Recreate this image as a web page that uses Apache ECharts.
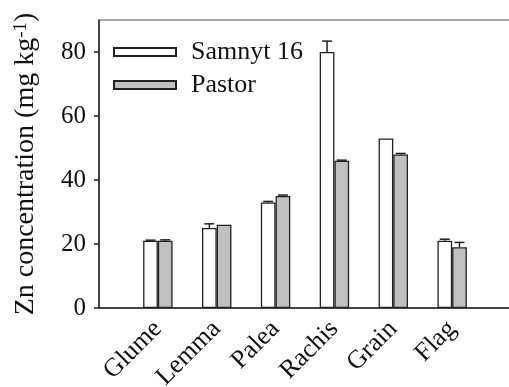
<!DOCTYPE html>
<html>
<head>
<meta charset="utf-8">
<script src="https://cdn.jsdelivr.net/npm/echarts@6/dist/echarts.min.js"></script>
<style>html,body{margin:0;padding:0;background:#fff}#c{width:509px;height:387px}</style>
</head>
<body>
<div id="c"></div>
<script>
var categories = ['Glume', 'Lemma', 'Palea', 'Rachis', 'Grain', 'Flag'];
var samnyt = [21, 25, 33, 80, 53, 21];
var samnytErr = [0.2, 1.3, 0.3, 3.4, 0, 0.5];
var pastor = [21, 26, 35, 46, 48, 19];
var pastorErr = [0.3, 0, 0.3, 0.2, 0.3, 1.5];
var yTicks = [0, 20, 40, 60, 80];

var FONT = '"Liberation Serif", "Times New Roman", serif';
var cats = [''].concat(categories).concat(['']);
function pad(a) { return ['-'].concat(a).concat(['-']); }

function errSeries(vals, errs, side) {
  var data = vals.map(function (v, i) { return [i + 1, v, errs[i]]; });
  return {
    type: 'custom',
    silent: true,
    z: 3,
    data: data,
    renderItem: function (params, api) {
      var x = api.value(0), v = api.value(1), e = api.value(2);
      if (!e) return null;
      var bw = api.size([1, 0])[0];
      var p0 = api.coord([x, v]);
      var p1 = api.coord([x, v + e]);
      var cx = p0[0] + side * bw * 0.125;
      var hw = 5;
      return {
        type: 'group',
        children: [
          { type: 'line', shape: { x1: cx, y1: p0[1], x2: cx, y2: p1[1] }, style: { stroke: '#222', lineWidth: 1.5 } },
          { type: 'line', shape: { x1: cx - hw, y1: p1[1], x2: cx + hw, y2: p1[1] }, style: { stroke: '#222', lineWidth: 1.5 } }
        ]
      };
    }
  };
}

var chart = echarts.init(document.getElementById('c'));
chart.setOption({
  animation: false,
  backgroundColor: '#fff',
  grid: { left: 99, top: 20, width: 412, height: 288, show: true, borderColor: '#555', borderWidth: 1, backgroundColor: 'transparent', outerBoundsMode: 'none', containLabel: false },
  legend: {
    orient: 'vertical', left: 113, top: 39, padding: 0, icon: 'rect', itemWidth: 62, itemHeight: 8, itemGap: 7,
    textStyle: { fontFamily: FONT, fontSize: 26, color: '#111', padding: [0, 0, 0, 10] },
    data: ['Samnyt 16', 'Pastor']
  },
  xAxis: {
    type: 'category', data: cats, boundaryGap: false,
    axisLine: { lineStyle: { color: '#222', width: 1.5 } },
    axisTick: { show: false },
    axisLabel: { interval: 0, rotate: 45, margin: 17, fontFamily: FONT, fontSize: 26, color: '#111' },
    splitLine: { show: false }
  },
  yAxis: {
    type: 'value', min: 0, max: 90,
    name: '{a|Zn concentration (mg kg}{s|-1}{a|)}',
    nameLocation: 'middle', nameGap: 59, nameRotate: 90,
    nameTextStyle: {
      rich: {
        a: { fontFamily: FONT, fontSize: 28, color: '#111' },
        s: { fontFamily: FONT, fontSize: 19, color: '#111', verticalAlign: 'top', padding: [0, 0, 9, 0] }
      }
    },
    axisLine: { show: true, lineStyle: { color: '#222', width: 1.5 } },
    axisTick: { show: true, length: 5, customValues: yTicks, lineStyle: { color: '#222', width: 1.5 } },
    axisLabel: { customValues: yTicks, margin: 13, fontFamily: FONT, fontSize: 25, color: '#111' },
    splitLine: { show: false }
  },
  series: [
    { name: 'Samnyt 16', type: 'bar', data: pad(samnyt), barWidth: '25%', barGap: '0%',
      itemStyle: { color: '#fff', borderColor: '#222', borderWidth: 1.3 } },
    { name: 'Pastor', type: 'bar', data: pad(pastor), barWidth: '25%', barGap: '0%',
      itemStyle: { color: '#c0c0c0', borderColor: '#222', borderWidth: 1.3 } },
    errSeries(samnyt, samnytErr, -1),
    errSeries(pastor, pastorErr, 1)
  ]
});
</script>
</body>
</html>
